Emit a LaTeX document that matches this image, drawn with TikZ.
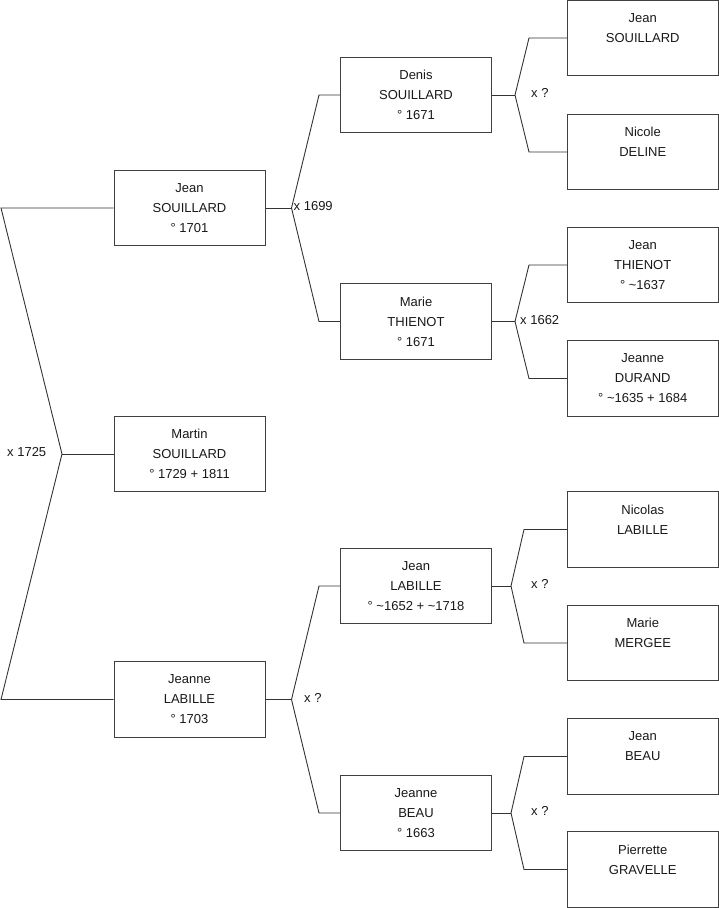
\documentclass[tikz,border=0pt]{standalone}
\usepackage{fontspec}
\setmainfont{Liberation Sans}
\begin{document}
\begin{tikzpicture}[x=1pt,y=-1pt,
  person/.style={draw=black!75,line width=1pt,fill=white,minimum width=151pt,minimum height=75.5pt,
    align=center,inner sep=0pt,font=\fontsize{13}{20}\selectfont,text=black!90},
  link/.style={draw=black!80,line width=0.9pt},
  union/.style={anchor=west,inner sep=0pt,font=\fontsize{13}{20}\selectfont,text=black!90}]
\useasboundingbox (0,0) rectangle (719,908);
% generation 1
\node[person] (jeanS1) at (189.5,208) {Jean\\SOUILLARD\\° 1701};
\node[person] (martin) at (189.5,454) {Martin\\SOUILLARD\\° 1729 + 1811};
\node[person] (jeanneL1) at (189.5,699.5) {Jeanne\\LABILLE\\° 1703};
% generation 2
\node[person] (denis) at (416,95) {Denis\\SOUILLARD\\° 1671};
\node[person] (marieT) at (416,321.5) {Marie\\THIENOT\\° 1671};
\node[person] (jeanL) at (416,586) {Jean\\LABILLE\\° \textasciitilde 1652 + \textasciitilde 1718};
\node[person] (jeanneB) at (416,813) {Jeanne\\BEAU\\° 1663};
% generation 3
\node[person] (jeanS0) at (642.75,38) {Jean\\SOUILLARD\\\phantom{° 1}};
\node[person] (nicole) at (642.75,152) {Nicole\\DELINE\\\phantom{° 1}};
\node[person] (jeanT) at (642.75,265) {Jean\\THIENOT\\° \textasciitilde 1637};
\node[person] (jeanneD) at (642.75,378.5) {Jeanne\\DURAND\\° \textasciitilde 1635 + 1684};
\node[person] (nicolas) at (642.75,529.5) {Nicolas\\LABILLE\\\phantom{° 1}};
\node[person] (marieM) at (642.75,643) {Marie\\MERGEE\\\phantom{° 1}};
\node[person] (jeanB) at (642.75,756.5) {Jean\\BEAU\\\phantom{° 1}};
\node[person] (pierrette) at (642.75,869.5) {Pierrette\\GRAVELLE\\\phantom{° 1}};
% fork coordinates
\coordinate (f0) at (62,454);
\coordinate (f0a) at (1,208);
\coordinate (f0b) at (1,699.5);
\coordinate (f1) at (291.5,208);
\coordinate (f1a) at (319,95);
\coordinate (f1b) at (319,321.5);
\coordinate (f2) at (291.5,699.5);
\coordinate (f2a) at (319,586);
\coordinate (f2b) at (319,813);
\coordinate (f3) at (515,95);
\coordinate (f3a) at (529,38);
\coordinate (f3b) at (529,152);
\coordinate (f4) at (515,321.5);
\coordinate (f4a) at (529,265);
\coordinate (f4b) at (529,378.5);
\coordinate (f5) at (511,586);
\coordinate (f5a) at (524,529.5);
\coordinate (f5b) at (524,643);
\coordinate (f6) at (511,813);
\coordinate (f6a) at (524,756.5);
\coordinate (f6b) at (524,869.5);
% connectors
\draw[link] (jeanS1.west) -- (f0a) -- (f0) -- (f0b) -- (jeanneL1.west);
\draw[link] (f0) -- (martin.west);
\draw[link] (jeanS1.east) -- (f1);
\draw[link] (denis.west) -- (f1a) -- (f1) -- (f1b) -- (marieT.west);
\draw[link] (jeanneL1.east) -- (f2);
\draw[link] (jeanL.west) -- (f2a) -- (f2) -- (f2b) -- (jeanneB.west);
\draw[link] (denis.east) -- (f3);
\draw[link] (jeanS0.west) -- (f3a) -- (f3) -- (f3b) -- (nicole.west);
\draw[link] (marieT.east) -- (f4);
\draw[link] (jeanT.west) -- (f4a) -- (f4) -- (f4b) -- (jeanneD.west);
\draw[link] (jeanL.east) -- (f5);
\draw[link] (nicolas.west) -- (f5a) -- (f5) -- (f5b) -- (marieM.west);
\draw[link] (jeanneB.east) -- (f6);
\draw[link] (jeanB.west) -- (f6a) -- (f6) -- (f6b) -- (pierrette.west);
% union labels
\node[union] (u0) at (7,452) {x 1725};
\node[union] (u1) at (293.5,206.5) {x 1699};
\node[union] (u2) at (304,698) {x ?};
\node[union] (u3) at (531,93) {x ?};
\node[union] (u4) at (520,320) {x 1662};
\node[union] (u5) at (531,584) {x ?};
\node[union] (u6) at (531,811) {x ?};
\end{tikzpicture}
\end{document}
